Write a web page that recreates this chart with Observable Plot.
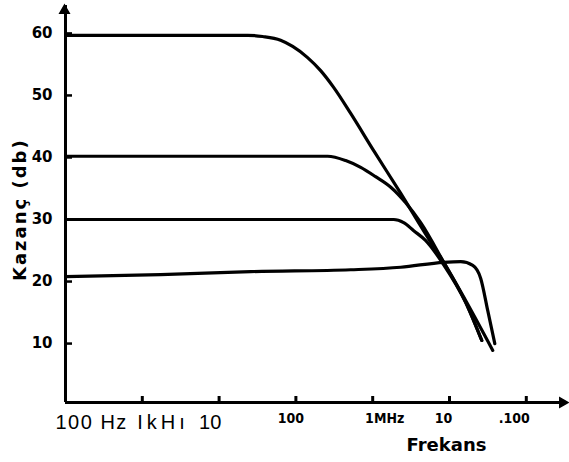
<!DOCTYPE html>
<html>
<head>
<meta charset="utf-8">
<script src="https://cdn.jsdelivr.net/npm/d3@7"></script>
<script src="https://cdn.jsdelivr.net/npm/@observablehq/plot@0.6"></script>
<style>
html, body { margin: 0; padding: 0; background: #fff; }
</style>
</head>
<body>
<div id="chart"></div>
<script>
// Frequencies in Hz, gains in dB
const freq60 = [100, 23500, 36900, 63200, 90800, 142000, 210000, 310000, 517000, 1030000, 2320000, 5210000, 8410000, 16300000, 36600000];
const gain60 = [59.7, 59.7, 59.5, 58.9, 57.9, 56.1, 54.0, 51.3, 47.1, 41.1, 34.2, 27.1, 23.1, 16.9, 8.9];

const freq40 = [100, 259000, 445000, 698000, 1090000, 1720000, 2690000, 4220000, 8410000, 16300000, 26300000];
const gain40 = [40.2, 40.2, 39.5, 38.4, 36.9, 35.2, 32.7, 29.5, 23.1, 16.6, 10.5];

const freq30 = [100, 1880000, 2530000, 3420000, 4910000, 8410000, 16300000, 26300000];
const gain30 = [30.0, 30.0, 29.5, 28.2, 26.6, 22.7, 16.6, 10.5];

const freq20 = [100, 1730, 25700, 517000, 2320000, 8410000, 14000000, 20100000, 25500000, 31500000, 38900000];
const gain20 = [20.8, 21.1, 21.6, 21.9, 22.3, 23.1, 23.2, 22.6, 20.5, 15.3, 10.0];

const yTicks = [10, 20, 30, 40, 50, 60];
const yTickLabels = ["10", "20", "30", "40", "50", "60"];
const xTicks = [1e2, 1e3, 1e4, 1e5, 1e6, 1e7, 1e8];
const xTickLabels = ["100 Hz", "IkHı", "10", "100", "1MHz", "10", ".100"];
const yTitle = "Kazanç (db)";
const xTitle = "Frekans";

const xMin = 100, xMax = 324000000;
const yMin = 0.5, yMax = 64.5;

const series = [
  {name: "60", f: freq60, g: gain60},
  {name: "40", f: freq40, g: gain40},
  {name: "30", f: freq30, g: gain30},
  {name: "20", f: freq20, g: gain20}
];
const rows = series.flatMap(s => s.f.map((f, i) => ({series: s.name, f, g: s.g[i]})));

const W = 569, H = 462, ML = 65, MR = 4, MT = 5, MB = 60;
const frameW = W - ML - MR, frameH = H - MT - MB;

const regularFont = {fontFamily: "'Liberation Sans', Arial, sans-serif", fontWeight: "normal", fontSize: 20};
const boldFont = {fontFamily: "'DejaVu Sans Condensed', 'DejaVu Sans', sans-serif", fontWeight: "bold", fontSize: 14};
// per-label horizontal offsets & anchors (style only)
const labelStyle = [
  {...regularFont, textAnchor: "start", dx: -10, dy: 26},
  {...regularFont, textAnchor: "start", dx: -5, dy: 26},
  {...regularFont, textAnchor: "start", dx: -20, dy: 26},
  {...boldFont, textAnchor: "middle", dx: -5, dy: 20},
  {...boldFont, textAnchor: "middle", dx: 12, dy: 20},
  {...boldFont, textAnchor: "middle", dx: -6, dy: 20},
  {...boldFont, textAnchor: "middle", dx: -12, dy: 20}
];

const xLabelMarks = xTicks.map((t, i) => Plot.text([t], {
  x: d => d, frameAnchor: "bottom", lineAnchor: "bottom",
  text: () => xTickLabels[i], fill: "black", ...labelStyle[i]
}));

const plot = Plot.plot({
  width: W,
  height: H,
  marginLeft: ML,
  marginRight: MR,
  marginTop: MT,
  marginBottom: MB,
  style: {fontFamily: "'DejaVu Sans', sans-serif", background: "white", color: "black"},
  x: {type: "log", domain: [xMin, xMax], axis: null},
  y: {domain: [yMin, yMax], axis: null},
  marks: [
    Plot.ruleX([xMin], {stroke: "black", strokeWidth: 3}),
    Plot.ruleY([yMin], {stroke: "black", strokeWidth: 3}),
    Plot.dot([yMax], {x: xMin, y: d => d, symbol: "triangle", r: 3.5, fill: "black", stroke: "black", dx: -1, dy: 5}),
    Plot.dot([xMax], {x: d => d, y: yMin, symbol: "triangle", rotate: 90, r: 3.5, fill: "black", stroke: "black", dx: -3}),
    Plot.tickY(yTicks, {y: d => d, insetRight: frameW - 7, stroke: "black", strokeWidth: 2.5}),
    Plot.tickX(xTicks, {x: d => d, insetTop: frameH - 6, stroke: "black", strokeWidth: 3}),
    Plot.axisY(yTicks, {tickSize: 0, tickPadding: 13, tickFormat: (d) => yTickLabels[yTicks.indexOf(d)], fontSize: 15, fontWeight: "bold", label: null}),
    Plot.line(rows, {x: "f", y: "g", z: "series", stroke: "black", strokeWidth: 3.2, curve: "monotone-x"}),
    ...xLabelMarks,
    Plot.text([xTitle], {frameAnchor: "bottom", lineAnchor: "bottom", dx: 131, dy: 48, fontSize: 18, fontWeight: "bold", fill: "black"}),
    Plot.text([yTitle], {frameAnchor: "left", rotate: -90, textAnchor: "start", dx: -45, dy: 77, fontSize: 18, fontWeight: "bold", fill: "black"})
  ]
});

d3.select(plot).selectAll("text").each(function() {
  const t = this.textContent;
  if (t === yTitle) this.setAttribute("letter-spacing", "2px");
  if (t === "IkHı") this.setAttribute("letter-spacing", "4px");
  if (t === "100 Hz") this.setAttribute("letter-spacing", "1.5px");
});

document.getElementById("chart").append(plot);
</script>
</body>
</html>
